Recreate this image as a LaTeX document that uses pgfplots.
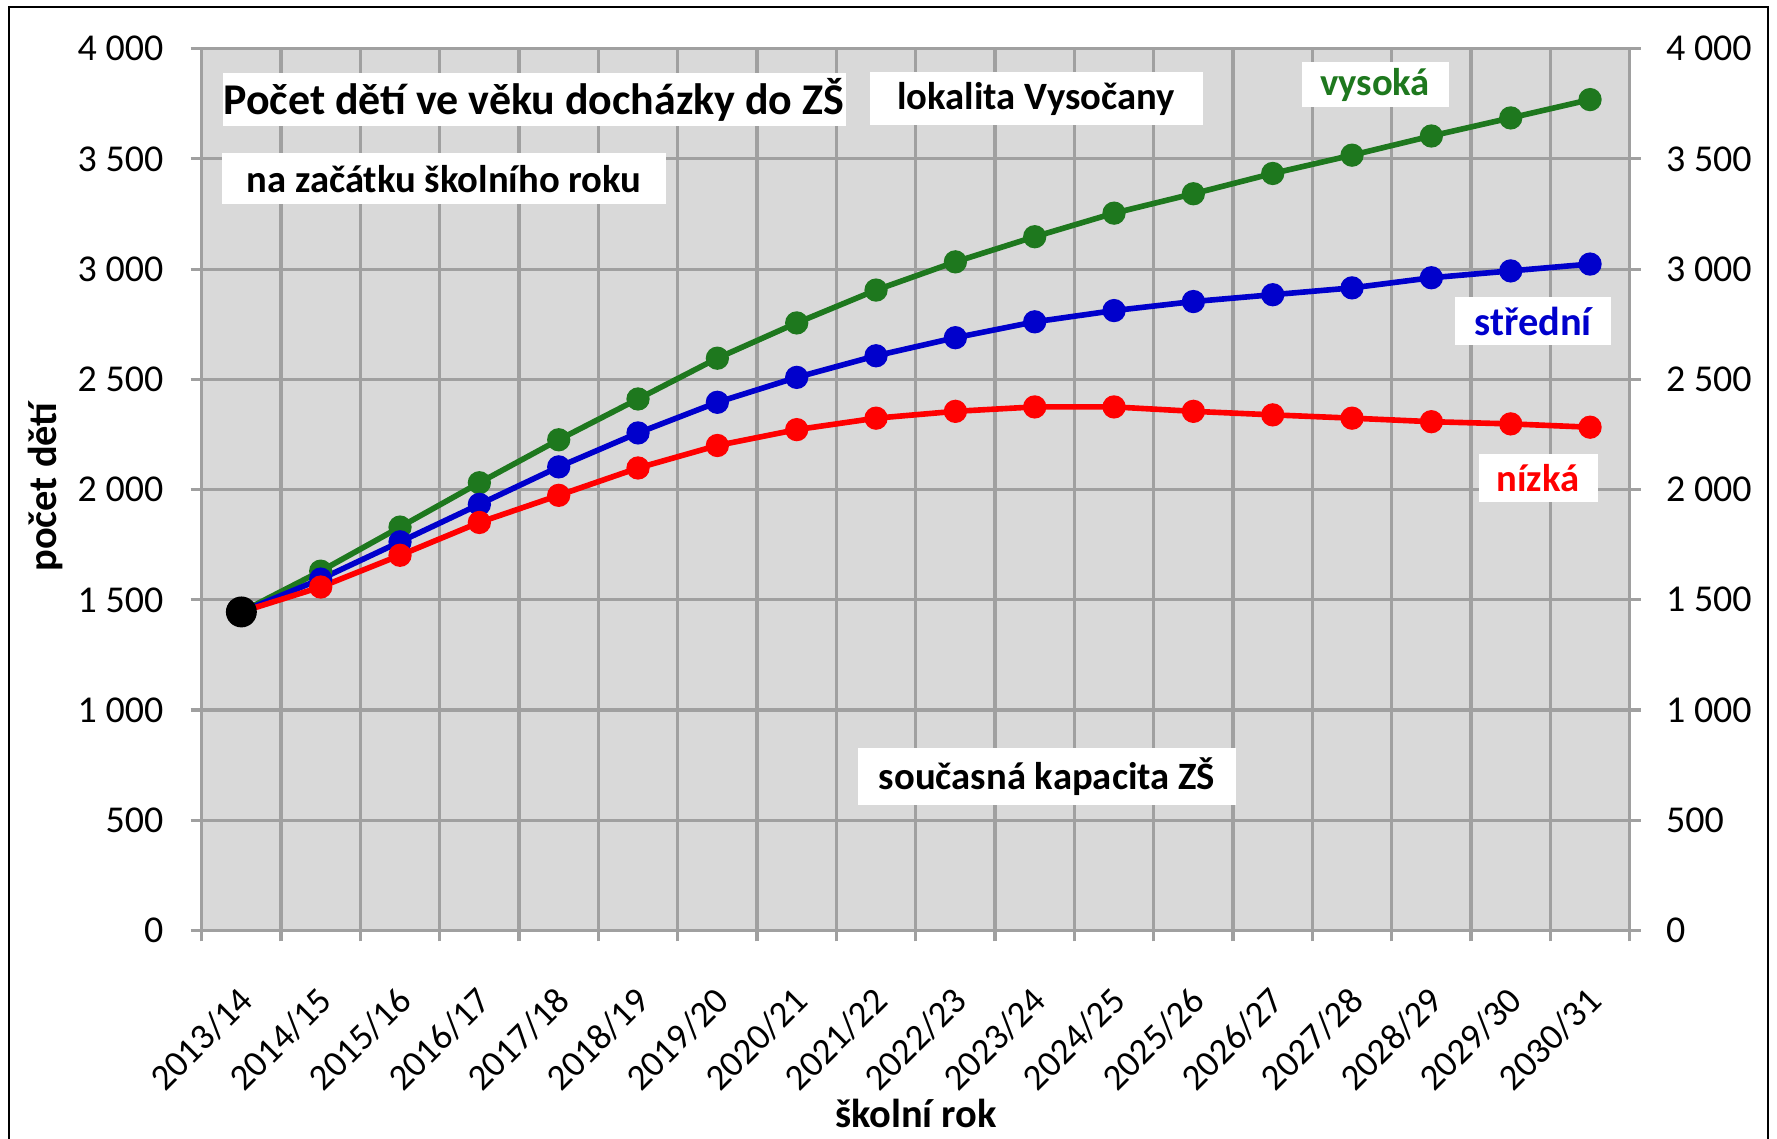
\documentclass[border=0pt]{standalone}
\usepackage{pgfplots}
\pgfplotsset{compat=1.18}
\usepackage{fontspec}
\setmainfont{Carlito}
\definecolor{gbg}{HTML}{D9D9D9}
\definecolor{ggrid}{HTML}{A0A0A0}
\definecolor{cgreen}{HTML}{1E781E}
\definecolor{cblue}{HTML}{0000CC}
\definecolor{cred}{HTML}{FF0000}
\pgfplotstableread{
x vysoka stredni nizka
0.5 1445 1445 1445
1.5 1630 1594 1558
2.5 1830 1763 1702
3.5 2031 1933 1851
4.5 2226 2103 1974
5.5 2411 2257 2098
6.5 2596 2396 2200
7.5 2756 2509 2272
8.5 2905 2607 2324
9.5 3033 2689 2355
10.5 3147 2761 2375
11.5 3254 2812 2375
12.5 3342 2853 2355
13.5 3434 2884 2339
14.5 3517 2915 2324
15.5 3604 2961 2308
16.5 3686 2992 2298
17.5 3769 3023 2283
}\datatable
\begin{document}
\begin{tikzpicture}[x=1mm,y=1mm]
\path[use as bounding box] (0,0) rectangle (177.7,113.9);
\draw[line width=0.7pt] (0.9,0) -- (0.9,113.2) -- (176.8,113.2) -- (176.8,0);
\begin{axis}[
  at={(20.17mm,20.85mm)}, anchor=south west,
  scale only axis, width=142.8mm, height=88.18mm,
  xmin=0, xmax=18, ymin=0, ymax=4000,
  axis background/.style={fill=gbg},
  axis line style={ggrid, line width=0.9pt},
  tick align=outside,
  xtick pos=bottom, ytick pos=left,
  xtick={0.44,1.44,2.44,3.44,4.44,5.44,6.44,7.44,8.44,9.44,10.44,11.44,12.44,13.44,14.44,15.44,16.44,17.44},
  xticklabels={2013/14,2014/15,2015/16,2016/17,2017/18,2018/19,2019/20,2020/21,2021/22,2022/23,2023/24,2024/25,2025/26,2026/27,2027/28,2028/29,2029/30,2030/31},
  major x tick style={draw=none},
  minor xtick={0,1,...,18},
  minor x tick style={ggrid, line width=0.9pt},
  minor tick length=1.1mm,
  major tick length=1.1mm,
  xminorgrids=true,
  minor grid style={ggrid, line width=0.9pt},
  ytick={0,500,...,4000},
  yticklabels={0,500,1 000,1 500,2 000,2 500,3 000,3 500,4 000},
  ymajorgrids=true,
  major grid style={ggrid, line width=0.9pt},
  major y tick style={ggrid, line width=0.9pt},
  xticklabel shift=2.6mm,
  x tick label style={rotate=45, anchor=north east, font=\fontsize{10.5}{12}\selectfont},
  y tick label style={font=\fontsize{10.8}{12}\selectfont, xshift=-1.5mm},
  clip=false,
]
\addplot[cgreen, line width=1.6pt, mark=*, mark size=2.5pt] table[x=x, y=vysoka] {\datatable};
\addplot[cblue, line width=1.6pt, mark=*, mark size=2.5pt] table[x=x, y=stredni] {\datatable};
\addplot[cred, line width=1.6pt, mark=*, mark size=2.5pt] table[x=x, y=nizka] {\datatable};
\addplot[black, only marks, mark=*, mark size=4.2pt] coordinates {(0.5,1445)};
\end{axis}
\begin{axis}[
  at={(20.17mm,20.85mm)}, anchor=south west,
  scale only axis, width=142.8mm, height=88.18mm,
  xmin=0, xmax=18, ymin=0, ymax=4000,
  axis x line=none,
  axis y line*=right,
  axis line style={ggrid, line width=0.9pt},
  tick align=outside,
  major tick length=1.1mm,
  ytick={0,500,...,4000},
  yticklabels={0,500,1 000,1 500,2 000,2 500,3 000,3 500,4 000},
  major y tick style={ggrid, line width=0.9pt},
  y tick label style={font=\fontsize{10.8}{12}\selectfont, xshift=1.3mm},
]
\end{axis}
\node[font=\bfseries\fontsize{12.5}{14}\selectfont, fill=white, minimum width=62.3mm, minimum height=5.3mm, inner sep=0pt] at (53.4,103.9) {Počet dětí ve věku docházky do ZŠ};
\node[font=\bfseries\fontsize{11}{13}\selectfont, fill=white, minimum width=44.4mm, minimum height=5.1mm, inner sep=0pt] at (44.4,96.0) {na začátku školního roku};
\node[font=\bfseries\fontsize{11}{13}\selectfont, fill=white, minimum width=33.3mm, minimum height=5.3mm, inner sep=0pt] at (103.6,104.0) {lokalita Vysočany};
\node[font=\bfseries\fontsize{11}{13}\selectfont, text=cgreen, fill=white, minimum width=14.7mm, minimum height=4.5mm, inner sep=0pt] at (137.5,105.4) {vysoká};
\node[font=\bfseries\fontsize{11.5}{13}\selectfont, text=cblue, fill=white, minimum width=15.6mm, minimum height=4.8mm, inner sep=0pt] at (153.3,81.8) {střední};
\node[font=\bfseries\fontsize{11}{13}\selectfont, text=cred, fill=white, minimum width=11.9mm, minimum height=4.8mm, inner sep=0pt] at (153.8,66.1) {nízká};
\node[font=\bfseries\fontsize{11}{13}\selectfont, fill=white, minimum width=37.8mm, minimum height=5.7mm, inner sep=0pt] at (104.7,36.2) {současná kapacita ZŠ};
\node[font=\bfseries\fontsize{11.5}{13}\selectfont, rotate=90] at (4.5,65.2) {počet dětí};
\node[font=\bfseries\fontsize{11.5}{13}\selectfont] at (91.6,2.6) {školní rok};
\end{tikzpicture}
\end{document}
